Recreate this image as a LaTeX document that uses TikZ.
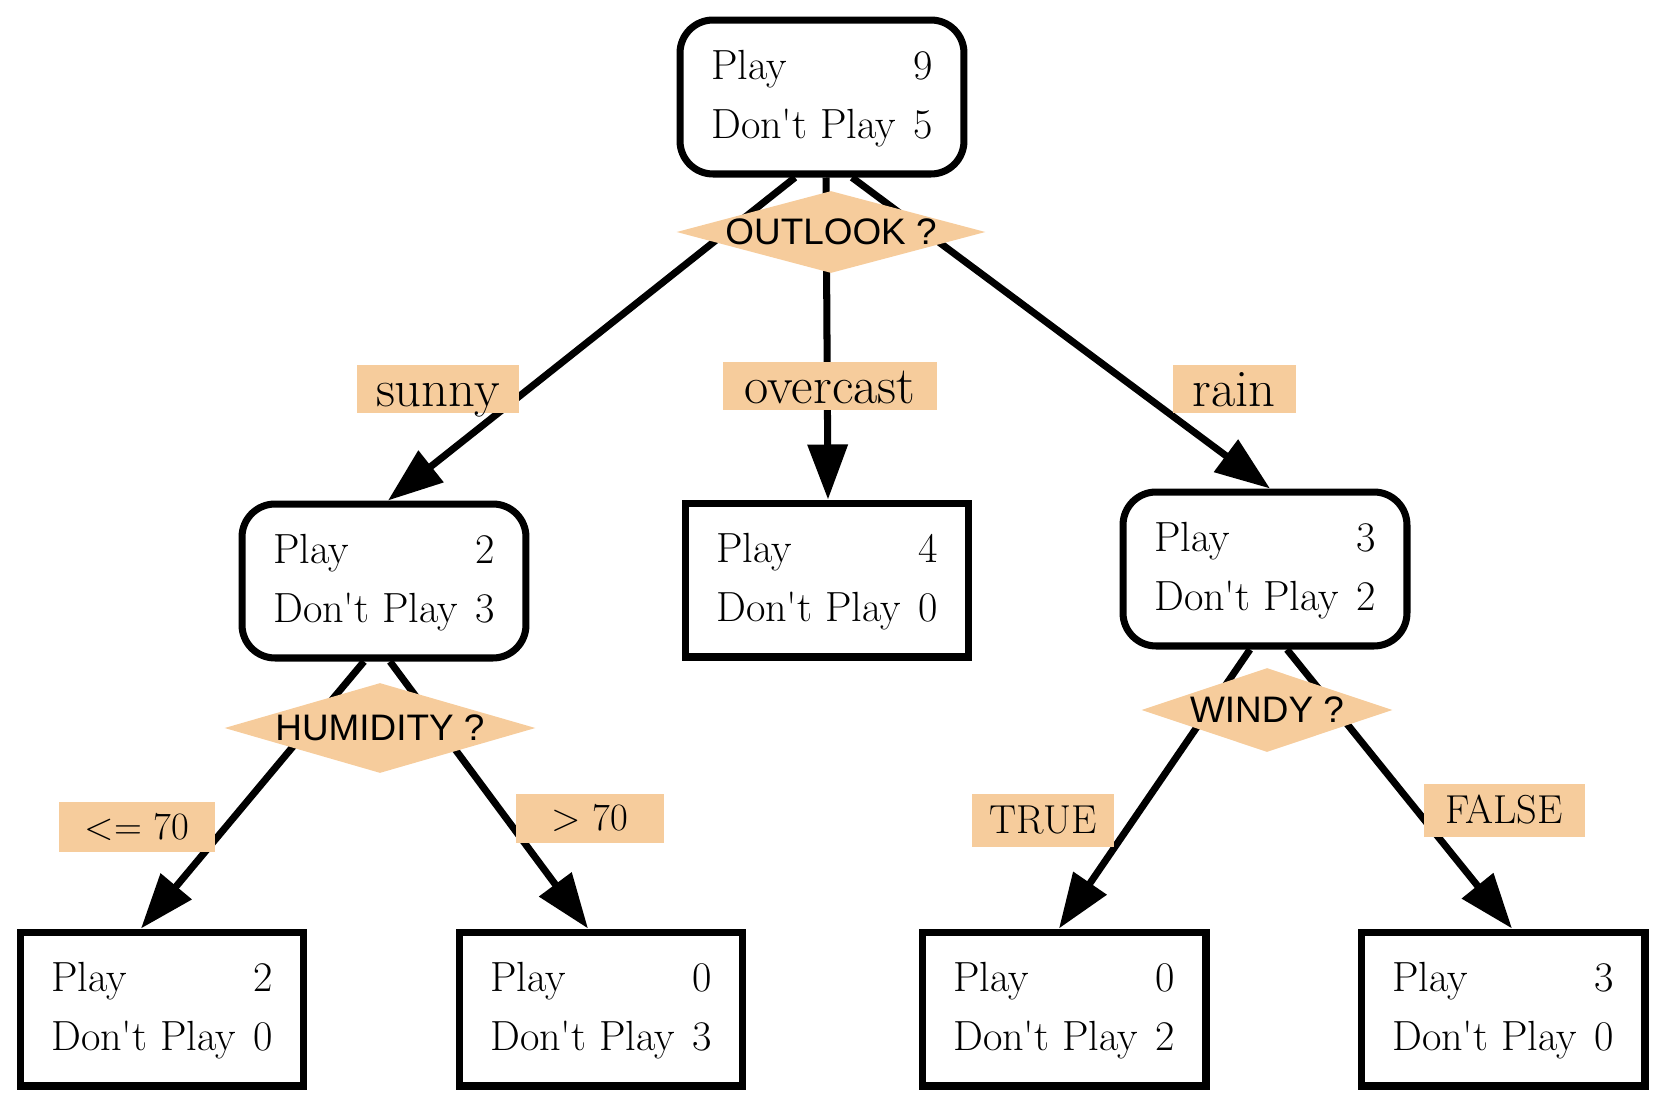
\documentclass[tikz,border=0pt]{standalone}
\usepackage{fontspec}
\newfontfamily\qfont{Liberation Sans}
\usetikzlibrary{arrows.meta,shapes.geometric,calc}
\definecolor{peach}{RGB}{246,204,156}
\newcommand{\tally}[2]{\begin{tabular}{@{}l@{\hspace{10pt}}r@{}}Play & #1\\ Don\textquotesingle t Play & #2\end{tabular}}
\tikzset{
  >={Triangle[length=1.1cm,width=0.78cm]},
  counts/.style={draw,line width=4pt,minimum width=5.68cm,minimum height=3.08cm,
    inner sep=0pt,font=\fontsize{24}{34}\selectfont},
  split/.style={counts,rounded corners=0.66cm},
  test/.style={diamond,fill=peach,inner sep=0pt,
    label={[font=\qfont\fontsize{21}{25}\selectfont]center:#1}},
  branch/.style={fill=peach,inner sep=0pt,font=\fontsize{#1}{#1}\selectfont,
    text height=0.66*#1pt,text depth=0pt},
  flow/.style={->,line width=4pt},
}
\begin{document}
\begin{tikzpicture}[x=0.02cm,y=-0.02cm]
  \useasboundingbox (0,0) rectangle (1660,1102);
  % class counts
  \node[split] (root) at (822,97) {\tally{9}{5}};
  \node[split] (hum) at (384,581) {\tally{2}{3}};
  \node[counts] (over) at (827,580) {\tally{4}{0}};
  \node[split] (rain) at (1265,569) {\tally{3}{2}};
  \node[counts] (lo) at (162,1009) {\tally{2}{0}};
  \node[counts] (hi) at (601,1009) {\tally{0}{3}};
  \node[counts] (yes) at (1064,1009) {\tally{0}{2}};
  \node[counts] (no) at (1503,1009) {\tally{3}{0}};
  % splits
  \draw[flow] ($(root.south)+(-27,0)$) -- ($(hum.north)+(4,0)$);
  \draw[flow] ($(root.south)+(4,0)$) -- ($(over.north)+(1,0)$);
  \draw[flow] ($(root.south)+(30,0)$) -- ($(rain.north)+(5,0)$);
  \draw[flow] ($(hum.south)+(-20,0)$) -- ($(lo.north)+(-21,0)$);
  \draw[flow] ($(hum.south)+(6,0)$) -- ($(hi.north)+(-13,0)$);
  \draw[flow] ($(rain.south)+(-15,0)$) -- ($(yes.north)+(-5,0)$);
  \draw[flow] ($(rain.south)+(22,0)$) -- ($(no.north)+(9,0)$);
  % tests
  \node[test=OUTLOOK ?,minimum width=6.18cm,minimum height=1.64cm] (outlook) at (831,232) {};
  \node[test=HUMIDITY ?,minimum width=6.22cm,minimum height=1.8cm] (humidity) at (380,728) {};
  \node[test=WINDY ?,minimum width=5.02cm,minimum height=1.68cm] (windy) at (1267,710) {};
  % branch values
  \node[branch=30,minimum width=3.24cm,minimum height=0.96cm] (sunny) at (438,389) {sunny};
  \node[branch=30,minimum width=4.28cm,minimum height=0.98cm] (overcast) at (830,386) {overcast};
  \node[branch=30,minimum width=2.46cm,minimum height=0.96cm] (rainy) at (1234,389) {rain};
  \node[branch=22,minimum width=3.14cm,minimum height=1.0cm] (le70) at (137,827) {<= 70};
  \node[branch=22,minimum width=2.96cm,minimum height=0.98cm] (gt70) at (590,818) {> 70};
  \node[branch=23,minimum width=2.86cm,minimum height=1.06cm] (true) at (1043,820) {TRUE};
  \node[branch=23,minimum width=3.22cm,minimum height=1.06cm] (false) at (1504,810) {FALSE};
\end{tikzpicture}
\end{document}
